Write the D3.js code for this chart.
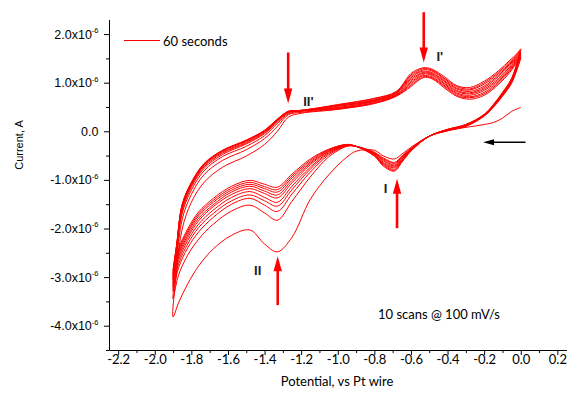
<!DOCTYPE html>
<html><head><meta charset="utf-8">
<script src="https://cdn.jsdelivr.net/npm/d3@7/dist/d3.min.js"></script>
<style>body{margin:0;background:#fff}svg{display:block}</style>
</head><body>
<svg id="chart" width="568" height="398"></svg>
<script>
// ---------- data (potential in V, current in units of 1e-6 A) ----------
const cathodicPotentials = [0.0,-0.05,-0.1,-0.15,-0.2,-0.3,-0.4,-0.5,-0.6,-0.65,-0.69,-0.75,-0.8,-0.9,-0.95,-1.05,-1.15,-1.25,-1.33,-1.4,-1.48,-1.58,-1.68,-1.76,-1.82,-1.87,-1.9];
const anodicPotentials = [-1.88,-1.85,-1.8,-1.73,-1.63,-1.5,-1.4,-1.33,-1.27,-1.2,-1.0,-0.8,-0.68,-0.6,-0.55,-0.52,-0.48,-0.42,-0.35,-0.28,-0.2,-0.12,-0.06,-0.02,0.0];
const scanNames = ["scan 1","scan 2","scan 3","scan 4","scan 5","scan 6","scan 7","scan 8","scan 9","scan 10"];
const cathodicCurrents = [
 [0.49,0.41,0.27,0.18,0.14,0.08,0.02,-0.10,-0.33,-0.47,-0.57,-0.51,-0.39,-0.41,-0.53,-0.90,-1.40,-2.18,-2.48,-2.32,-2.03,-2.14,-2.42,-2.77,-3.14,-3.53,-3.82],
 [1.50,0.99,0.72,0.49,0.31,0.10,0.01,-0.10,-0.35,-0.51,-0.64,-0.55,-0.43,-0.31,-0.31,-0.53,-0.94,-1.44,-1.83,-1.68,-1.52,-1.64,-1.91,-2.22,-2.55,-2.96,-3.45],
 [1.52,1.00,0.73,0.50,0.32,0.11,0.01,-0.10,-0.36,-0.53,-0.66,-0.57,-0.44,-0.31,-0.30,-0.49,-0.84,-1.29,-1.65,-1.52,-1.38,-1.50,-1.77,-2.07,-2.40,-2.81,-3.29],
 [1.54,1.02,0.74,0.51,0.32,0.11,0.02,-0.10,-0.37,-0.54,-0.69,-0.59,-0.45,-0.31,-0.30,-0.46,-0.78,-1.20,-1.54,-1.43,-1.31,-1.43,-1.69,-1.98,-2.32,-2.73,-3.21],
 [1.57,1.03,0.75,0.51,0.33,0.12,0.02,-0.10,-0.37,-0.56,-0.71,-0.61,-0.46,-0.31,-0.29,-0.44,-0.74,-1.13,-1.46,-1.36,-1.24,-1.36,-1.62,-1.91,-2.25,-2.66,-3.13],
 [1.59,1.04,0.76,0.52,0.33,0.12,0.03,-0.10,-0.38,-0.58,-0.73,-0.64,-0.47,-0.31,-0.29,-0.42,-0.69,-1.06,-1.37,-1.28,-1.18,-1.30,-1.55,-1.84,-2.19,-2.60,-3.06],
 [1.61,1.05,0.77,0.53,0.33,0.13,0.03,-0.10,-0.39,-0.59,-0.75,-0.66,-0.48,-0.31,-0.28,-0.41,-0.66,-1.01,-1.31,-1.23,-1.13,-1.25,-1.51,-1.79,-2.14,-2.55,-3.01],
 [1.63,1.07,0.78,0.53,0.34,0.13,0.03,-0.10,-0.40,-0.61,-0.78,-0.68,-0.49,-0.31,-0.28,-0.39,-0.63,-0.96,-1.25,-1.18,-1.09,-1.21,-1.46,-1.74,-2.09,-2.50,-2.96],
 [1.66,1.08,0.79,0.54,0.34,0.14,0.04,-0.10,-0.40,-0.62,-0.80,-0.70,-0.50,-0.31,-0.27,-0.38,-0.60,-0.92,-1.20,-1.14,-1.05,-1.17,-1.42,-1.70,-2.05,-2.46,-2.92],
 [1.68,1.09,0.80,0.55,0.35,0.14,0.04,-0.10,-0.41,-0.64,-0.82,-0.72,-0.51,-0.31,-0.27,-0.37,-0.57,-0.88,-1.15,-1.09,-1.01,-1.13,-1.38,-1.66,-2.01,-2.42,-2.87]
];
const anodicCurrents = [
 [-2.87,-2.01,-1.46,-1.05,-0.74,-0.51,-0.27,0.00,0.29,0.37,0.45,0.57,0.72,0.92,1.07,1.11,1.07,0.90,0.72,0.66,0.74,0.97,1.21,1.42,1.50],
 [-2.65,-1.81,-1.30,-0.89,-0.60,-0.38,-0.15,0.10,0.34,0.39,0.46,0.58,0.73,0.95,1.09,1.13,1.09,0.93,0.74,0.69,0.77,1.00,1.24,1.44,1.52],
 [-2.53,-1.69,-1.21,-0.81,-0.52,-0.31,-0.09,0.16,0.36,0.41,0.47,0.59,0.74,0.98,1.12,1.15,1.11,0.95,0.77,0.71,0.80,1.03,1.27,1.46,1.54],
 [-2.46,-1.63,-1.15,-0.76,-0.48,-0.26,-0.05,0.19,0.38,0.42,0.48,0.61,0.75,1.01,1.14,1.18,1.14,0.98,0.79,0.74,0.84,1.06,1.29,1.48,1.57],
 [-2.41,-1.59,-1.12,-0.73,-0.45,-0.24,-0.03,0.21,0.39,0.42,0.49,0.62,0.76,1.04,1.17,1.20,1.16,1.00,0.82,0.77,0.87,1.09,1.32,1.50,1.59],
 [-2.38,-1.56,-1.10,-0.70,-0.43,-0.22,-0.01,0.22,0.40,0.42,0.51,0.63,0.78,1.07,1.19,1.22,1.18,1.03,0.84,0.79,0.90,1.13,1.35,1.52,1.61],
 [-2.36,-1.54,-1.08,-0.69,-0.41,-0.20,0.00,0.23,0.40,0.43,0.52,0.64,0.79,1.10,1.22,1.24,1.20,1.05,0.87,0.82,0.93,1.16,1.38,1.54,1.63],
 [-2.34,-1.52,-1.07,-0.68,-0.40,-0.19,0.01,0.24,0.41,0.43,0.53,0.65,0.80,1.13,1.24,1.27,1.23,1.08,0.89,0.85,0.97,1.19,1.40,1.56,1.66],
 [-2.33,-1.51,-1.06,-0.67,-0.40,-0.19,0.02,0.25,0.41,0.43,0.54,0.67,0.81,1.16,1.27,1.29,1.25,1.10,0.92,0.87,1.00,1.22,1.43,1.58,1.68],
 [-2.32,-1.50,-1.05,-0.66,-0.39,-0.18,0.02,0.25,0.41,0.43,0.55,0.68,0.82,1.19,1.29,1.31,1.27,1.13,0.94,0.90,1.03,1.25,1.46,1.60,1.70]
];
const yTickValues = [-4,-3,-2,-1,0,1,2];
const yTickLabels = ["-4.0","-3.0","-2.0","-1.0","0.0","1.0","2.0"];
const yMinorValues = [-4.5,-3.5,-2.5,-1.5,-0.5,0.5,1.5];
const xTickValues = [-2.2,-2.0,-1.8,-1.6,-1.4,-1.2,-1.0,-0.8,-0.6,-0.4,-0.2,0.0,0.2];
const xTickLabels = ["-2.2","-2.0","-1.8","-1.6","-1.4","-1.2","-1.0","-0.8","-0.6","-0.4","-0.2","0.0","0.2"];
const xMinorValues = [-2.1,-1.9,-1.7,-1.5,-1.3,-1.1,-0.9,-0.7,-0.5,-0.3,-0.1,0.1];
const peakLabels = ["II'","I'","I","II"];
const peakLabelPos = [[-1.189,0.513],[-0.461,1.443],[-0.748,-1.268],[-1.457,-2.959]];
const arrowColors = ["#ff0000","#ff0000","#ff0000","#ff0000","#000000"];
const arrowFrom = [[-1.271,1.622],[-0.530,2.450],[-0.676,-1.994],[-1.328,-3.576],[0.026,-0.227]];
const arrowTo   = [[-1.271,0.574],[-0.530,1.417],[-0.676,-0.977],[-1.328,-2.569],[-0.206,-0.227]];
const legendText = "60 seconds";
const noteText = "10 scans @ 100 mV/s";
const xTitle = "Potential, vs Pt wire";
const yTitle = "Current, A";

// ---------- drawing ----------
const svg = d3.select("#chart");
const x = d3.scaleLinear().domain([-2.25, 0.25]).range([109, 566.5]);
const y = d3.scaleLinear().domain([-4.5, 2.3]).range([350, 19.5]);
const calibri = "Lato, 'Open Sans', sans-serif";
const arial = "'Liberation Sans', Arial, sans-serif";

// scans
const line = d3.line().x(d => x(d[0])).y(d => y(d[1])).curve(d3.curveCatmullRom.alpha(0.5));
const gScans = svg.append("g");
scanNames.forEach((name, i) => {
  const pts = cathodicPotentials.map((v, j) => [v, cathodicCurrents[i][j]])
    .concat(anodicPotentials.map((v, j) => [v, anodicCurrents[i][j]]));
  gScans.append("path").attr("d", line(pts)).attr("fill", "none")
    .attr("stroke", "#ff0000").attr("stroke-width", 1).attr("stroke-linejoin", "round");
});

// axes
const gx = svg.append("g").attr("transform", `translate(0,${y(-4.5)})`);
gx.call(d3.axisBottom(x).tickValues(xTickValues).tickSize(5).tickSizeOuter(0)
  .tickFormat((d, i) => xTickLabels[i]));
gx.append("g").call(d3.axisBottom(x).tickValues(xMinorValues).tickSize(3).tickFormat(""))
  .select(".domain").remove();
gx.selectAll("text").attr("y", 13.5).attr("dy", 0)
  .attr("font-family", calibri).attr("font-size", 13).attr("fill", "#000");

const gy = svg.append("g").attr("transform", `translate(${x(-2.25)},0)`);
gy.call(d3.axisLeft(y).tickValues(yTickValues).tickSize(5).tickSizeOuter(0).tickFormat(""));
gy.append("g").call(d3.axisLeft(y).tickValues(yMinorValues).tickSize(3).tickFormat(""))
  .select(".domain").remove();
svg.selectAll(".domain, .tick line").attr("stroke", "#000").attr("stroke-width", 1);

// y tick labels with superscript exponent
const gyl = svg.append("g").attr("font-family", arial).attr("font-size", 12.5).attr("fill", "#000");
yTickValues.forEach((v, i) => {
  const t = gyl.append("text").attr("x", 98.5).attr("y", y(v) + 4.5).attr("text-anchor", "end");
  t.append("tspan").text(v === 0 ? yTickLabels[i] : yTickLabels[i] + "x10");
  if (v !== 0) t.append("tspan").attr("dy", -5.5).attr("font-size", 7.5).text("-6");
});

// axis titles
svg.append("text").attr("x", 337).attr("y", 386).attr("text-anchor", "middle")
  .attr("font-family", calibri).attr("font-size", 13).text(xTitle);
svg.append("text").attr("transform", "translate(23,145) rotate(-90)").attr("text-anchor", "middle")
  .attr("font-family", arial).attr("font-size", 11).text(yTitle);

// legend
svg.append("line").attr("x1", 124).attr("x2", 160).attr("y1", 40.5).attr("y2", 40.5)
  .attr("stroke", "#ff0000").attr("stroke-width", 1);
svg.append("text").attr("x", 163).attr("y", 45.5).attr("font-family", calibri)
  .attr("font-size", 13).text(legendText);

// note
svg.append("text").attr("x", 378).attr("y", 318.5).attr("font-family", calibri)
  .attr("font-size", 13).text(noteText);

// peak labels
peakLabels.forEach((lab, i) => {
  svg.append("text").attr("x", x(peakLabelPos[i][0])).attr("y", y(peakLabelPos[i][1]))
    .attr("font-family", arial).attr("font-weight", "bold").attr("font-size", 13)
    .attr("fill", "#222").text(lab);
});

// arrows
arrowFrom.forEach((f, i) => {
  const x0 = x(f[0]), y0 = y(f[1]), x1 = x(arrowTo[i][0]), y1 = y(arrowTo[i][1]);
  const black = arrowColors[i] === "#000000";
  const hl = black ? 11 : 15, hw = black ? 3 : 4.2, sw = black ? 1.6 : 2.6;
  const len = Math.hypot(x1 - x0, y1 - y0), ux = (x1 - x0) / len, uy = (y1 - y0) / len;
  const bx = x1 - ux * hl, by = y1 - uy * hl;
  svg.append("line").attr("x1", x0).attr("y1", y0).attr("x2", bx + ux * 2).attr("y2", by + uy * 2)
    .attr("stroke", arrowColors[i]).attr("stroke-width", sw);
  svg.append("path").attr("d", `M${x1},${y1}L${bx - uy * hw},${by + ux * hw}L${bx + uy * hw},${by - ux * hw}Z`)
    .attr("fill", arrowColors[i]);
});
</script>
</body></html>
